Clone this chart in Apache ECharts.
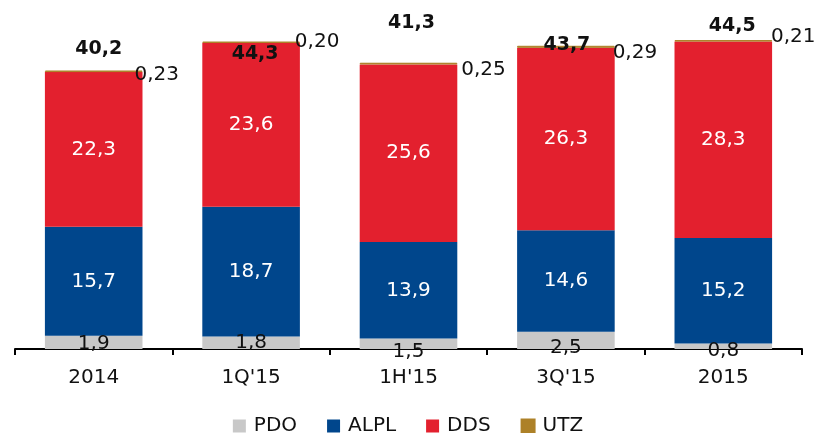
<!DOCTYPE html>
<html>
<head>
<meta charset="utf-8">
<script src="https://cdn.jsdelivr.net/npm/echarts@6/dist/echarts.min.js"></script>
<style>
html, body { margin: 0; padding: 0; background: #fff; }
#chart { width: 816px; height: 433px; }
</style>
</head>
<body>
<div id="chart"></div>
<script>
// data
var periods = ['2014', "1Q'15", "1H'15", "3Q'15", '2015'];
var pdo = [1.9, 1.8, 1.5, 2.5, 0.8];
var alpl = [15.7, 18.7, 13.9, 14.6, 15.2];
var dds = [22.3, 23.6, 25.6, 26.3, 28.3];
var utz = [0.23, 0.20, 0.25, 0.29, 0.21];
var totals = [40.2, 44.3, 41.3, 43.7, 44.5];

var font = 'DejaVu Sans';

function fmt(v) {
	return String(v).replace('.', ',');
}
function fmt2(v) {
	return v.toFixed(2).replace('.', ',');
}

// label nudges
var pdoOff = [[0, 1], [0, 0], [0, 8], [0, 7], [0, 5]];
var utzOff = [[63, 4], [66, 0], [75, 6], [69, 6], [70, -4]];
var totOff = [[5, -21], [4, 13], [3, -40], [1, -1], [9, -14]];

function withOffsets(vals, offs) {
	return vals.map(function (v, i) {
		return { value: v, label: { offset: offs[i] } };
	});
}

var myChart = echarts.init(document.getElementById('chart'));
var option = {
	animation: false,
	textStyle: { fontFamily: font },
	grid: { left: 15, right: 14, top: 2, bottom: 84 },
	legend: {
		data: ['PDO', 'ALPL', 'DDS', 'UTZ'],
		top: 411,
		left: 'center',
		itemWidth: 13,
		itemHeight: 13,
		itemGap: 30,
		icon: 'rect',
		textStyle: { fontFamily: font, fontSize: 20, color: '#111', padding: [0, 0, 0, 3] }
	},
	xAxis: {
		type: 'category',
		data: periods,
		axisLine: { lineStyle: { color: '#000', width: 2 } },
		axisTick: { show: true, inside: false, length: 6, lineStyle: { color: '#000', width: 2 } },
		axisLabel: { fontFamily: font, fontSize: 20, color: '#111', margin: 19 }
	},
	yAxis: {
		type: 'value',
		min: 0,
		max: 50,
		show: false,
		splitLine: { show: false }
	},
	series: [
		{
			name: 'PDO', type: 'bar', stack: 'a', barWidth: '62%',
			itemStyle: { color: '#c8c8c8' },
			label: { show: true, position: 'inside', fontSize: 20, color: '#111', formatter: function (p) { return fmt(p.value); } },
			data: withOffsets(pdo, pdoOff)
		},
		{
			name: 'ALPL', type: 'bar', stack: 'a',
			itemStyle: { color: '#00468c' },
			label: { show: true, position: 'inside', fontSize: 20, color: '#fff', formatter: function (p) { return fmt(p.value); } },
			data: alpl
		},
		{
			name: 'DDS', type: 'bar', stack: 'a',
			itemStyle: { color: '#e3202e' },
			label: { show: true, position: 'inside', fontSize: 20, color: '#fff', formatter: function (p) { return fmt(p.value); } },
			data: dds
		},
		{
			name: 'UTZ', type: 'bar', stack: 'a',
			itemStyle: { color: '#ad8128', borderColor: '#ad8128', borderWidth: 1 },
			label: { show: true, position: 'inside', fontSize: 20, color: '#111', formatter: function (p) { return fmt2(p.value); } },
			data: withOffsets(utz, utzOff)
		},
		{
			name: 'Total', type: 'bar', stack: 'a',
			itemStyle: { color: 'transparent' },
			label: {
				show: true, position: 'inside', fontSize: 19, fontWeight: 'bold', color: '#111',
				formatter: function (p) { return fmt(totals[p.dataIndex]); }
			},
			data: withOffsets([0, 0, 0, 0, 0], totOff)
		}
	]
};
myChart.setOption(option);
</script>
</body>
</html>
